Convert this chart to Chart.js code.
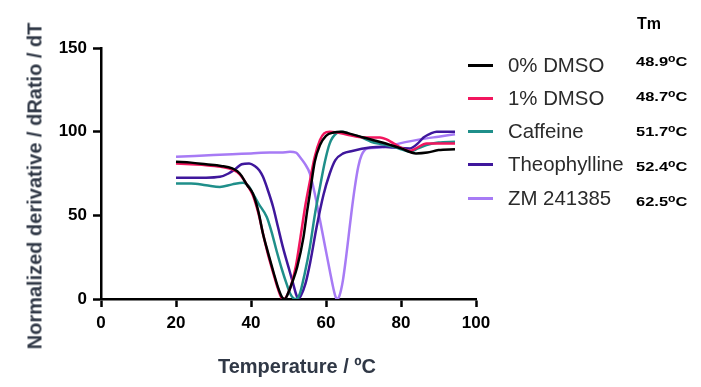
<!DOCTYPE html>
<html>
<head>
<meta charset="utf-8">
<script src="https://cdn.jsdelivr.net/npm/chart.js@4.4.1/dist/chart.umd.min.js"></script>
<style>
  body { margin: 0; background: #fff; font-family: Arial, "Liberation Sans", sans-serif; }
  #wrap { position: relative; width: 701px; height: 387px; }
  .title { position: absolute; font-weight: bold; font-size: 20px; color: #303846; white-space: nowrap; }
  #xtitle { left: 297px; top: 366px; transform: translate(-50%, -50%); }
  #ytitle { left: 35px; top: 186px; transform: translate(-50%, -50%) rotate(-90deg); }
  .row { position: absolute; left: 468px; height: 24px; display: flex; align-items: center; }
  .mark { width: 25px; height: 3px; margin-right: 15px; }
  .lab { font-size: 20.4px; color: #2b2b2b; }
  .tm { position: absolute; left: 636px; font-weight: bold; color: #000; white-space: nowrap;
        font-size: 13.5px; transform-origin: left center; transform: translateY(-50%) scaleX(1.22); }
  .tm sup { font-size: 10px; vertical-align: 4px; }
  #tmhead { font-size: 16px; transform: translateY(-50%); left: 637px; }
</style>
</head>
<body>
<div id="wrap">
  <canvas id="myChart"></canvas>
  <div class="title" id="xtitle">Temperature / ºC</div>
  <div class="title" id="ytitle">Normalized derivative / dRatio / dT</div>
  <div id="legend"></div>
</div>
<script>
const seriesNames = ['0% DMSO', '1% DMSO', 'Caffeine', 'Theophylline', 'ZM 241385'];
const seriesColors = ['#000000', '#f2165e', '#1f8f8a', '#3f179c', '#a77bf5'];
const tmValues = ['48.9', '48.7', '51.7', '52.4', '62.5'];
const xTicks = [0, 20, 40, 60, 80, 100];
const yTicks = [0, 50, 100, 150];

// 0% DMSO
const tempDmso0 = [20, 24, 28, 32, 35, 37, 39, 40.5, 42, 43.2, 44.5, 46, 47.2, 48.3, 49, 50, 51, 52.3, 54, 55, 55.7, 57, 58.4, 60, 62, 64, 66, 70, 75, 80, 84, 87, 90, 94.4];
const valDmso0 = [82, 81.5, 80.5, 79.5, 78, 75, 68, 63, 52, 39, 28, 16, 7, 1, 0, 4, 10, 19, 37, 53, 63, 82, 92, 97.5, 99.5, 100, 99, 96.5, 93.5, 90, 87, 87.5, 89, 89.5];
// 1% DMSO
const tempDmso1 = [20, 24, 28, 32, 35, 37, 39, 40.5, 42, 43.2, 44.5, 46, 47.2, 48.2, 48.8, 49.8, 50.8, 52, 53.2, 54.5, 55.5, 57, 58.4, 59.5, 61, 63, 66, 70, 74.4, 76, 78, 80, 82.4, 84, 86.8, 90, 94.4];
const valDmso1 = [81, 80.5, 80, 79, 77.5, 74.5, 68, 62, 51, 39, 27, 15, 6, 0.5, 0, 3, 9, 20, 37, 56, 68, 85, 95, 99, 100, 99.5, 98, 96.5, 96.5, 95.5, 93, 90.5, 88.5, 90, 93, 93, 93];
// Caffeine
const tempCaff = [20, 24, 28, 31.7, 35, 37.9, 39.5, 40.5, 42, 44.2, 45.5, 46.8, 48.2, 49.5, 50.5, 51.3, 52, 53, 54.3, 55.7, 57, 58.4, 59.7, 61, 62.8, 64.5, 67, 69, 72, 75, 78, 80, 82.4, 84.5, 86.8, 90, 94.4];
const valCaff = [69, 69, 68, 67, 68.5, 69.5, 67, 63, 57, 49, 40, 29, 18, 9, 3, 0.5, 0, 3, 15, 31, 50, 67, 82, 93, 99, 100, 98, 97, 94, 92.5, 91, 89.5, 88, 90, 92, 93.5, 94];
// Theophylline
const tempTheo = [20, 24, 28, 31.7, 34, 36, 37.5, 39.5, 41, 42.2, 43.2, 44.5, 45.9, 47.2, 48.5, 50, 51.2, 52, 52.6, 53.3, 54.5, 55.8, 57.5, 59.3, 61, 62.5, 64.6, 67, 71.7, 75, 78, 82.4, 84.5, 86, 88, 89.5, 94.4];
const valTheo = [72.5, 72.5, 72.5, 73, 75, 78, 80.5, 81, 79.5, 77, 73, 65, 55, 43, 31, 19, 9.5, 3, 0, 2, 9, 22, 43, 62, 75, 83, 87, 88.5, 90.5, 91, 90.5, 90, 93, 96.5, 99, 100, 100];
// ZM 241385
const tempZm = [20, 25, 30, 35, 40, 45, 48, 50.4, 52, 53, 54.3, 55.7, 57, 58.4, 59.7, 61, 62, 62.6, 63, 63.6, 64.5, 65.3, 66, 66.8, 67.7, 68.6, 69.5, 71, 74.4, 77, 79.7, 83, 86.8, 90, 94.4];
const valZm = [85, 85.5, 86, 86.5, 87, 87.5, 87.5, 88, 87.5, 85, 81, 75, 63, 47, 32, 17, 6, 1, 0, 2, 11, 24, 37, 52, 67, 79, 86, 90, 90.5, 91.5, 93, 94.5, 96, 97, 98.5];

const temps = [tempDmso0, tempDmso1, tempCaff, tempTheo, tempZm];
const vals = [valDmso0, valDmso1, valCaff, valTheo, valZm];

const legend = document.getElementById('legend');
const tmHead = document.createElement('div');
tmHead.className = 'tm';
tmHead.id = 'tmhead';
tmHead.style.top = '24px';
tmHead.textContent = 'Tm';
legend.appendChild(tmHead);

seriesNames.forEach((name, i) => {
  const row = document.createElement('div');
  row.className = 'row';
  row.style.top = (65 + i * 33.3 - 12) + 'px';
  const mark = document.createElement('div');
  mark.className = 'mark';
  mark.style.background = seriesColors[i];
  const lab = document.createElement('span');
  lab.className = 'lab';
  lab.textContent = name;
  row.appendChild(mark);
  row.appendChild(lab);
  legend.appendChild(row);

  const tm = document.createElement('div');
  tm.className = 'tm';
  tm.style.top = (61 + i * 35) + 'px';
  tm.innerHTML = tmValues[i] + '<sup>o</sup>C';
  legend.appendChild(tm);
});

const ctx = document.getElementById('myChart');
const tickFont = { family: 'Arial, "Liberation Sans"', size: 17, weight: 'bold' };

new Chart(ctx, {
  type: 'scatter',
  data: {
    datasets: seriesNames.map((name, i) => ({
      label: name,
      data: temps[i].map((t, j) => ({ x: t, y: vals[i][j] })),
      showLine: true,
      borderColor: seriesColors[i],
      backgroundColor: seriesColors[i],
      borderWidth: 2.5,
      pointRadius: 0,
      cubicInterpolationMode: 'monotone',
    })),
  },
  options: {
    responsive: true,
    maintainAspectRatio: false,
    animation: false,
    layout: { padding: { left: 0, top: 48, right: 225, bottom: 0 } },
    plugins: { legend: { display: false }, tooltip: { enabled: false } },
    scales: {
      x: {
        type: 'linear',
        min: 0,
        max: 100,
        afterBuildTicks: (scale) => { scale.ticks = xTicks.map((v) => ({ value: v })); },
        afterFit: (scale) => { scale.height = 88; },
        ticks: { font: tickFont, color: '#000', padding: 6 },
        grid: { drawOnChartArea: false, drawTicks: true, tickLength: 8, tickWidth: 2.5, tickColor: '#000' },
        border: { color: '#000', width: 2.5 },
      },
      y: {
        min: 0,
        max: 150,
        afterBuildTicks: (scale) => { scale.ticks = yTicks.map((v) => ({ value: v })); },
        afterFit: (scale) => { scale.width = 101; },
        ticks: { font: tickFont, color: '#000', padding: 6 },
        grid: { drawOnChartArea: false, drawTicks: true, tickLength: 8, tickWidth: 2.5, tickColor: '#000' },
        border: { color: '#000', width: 2.5 },
      },
    },
  },
});
</script>
</body>
</html>
